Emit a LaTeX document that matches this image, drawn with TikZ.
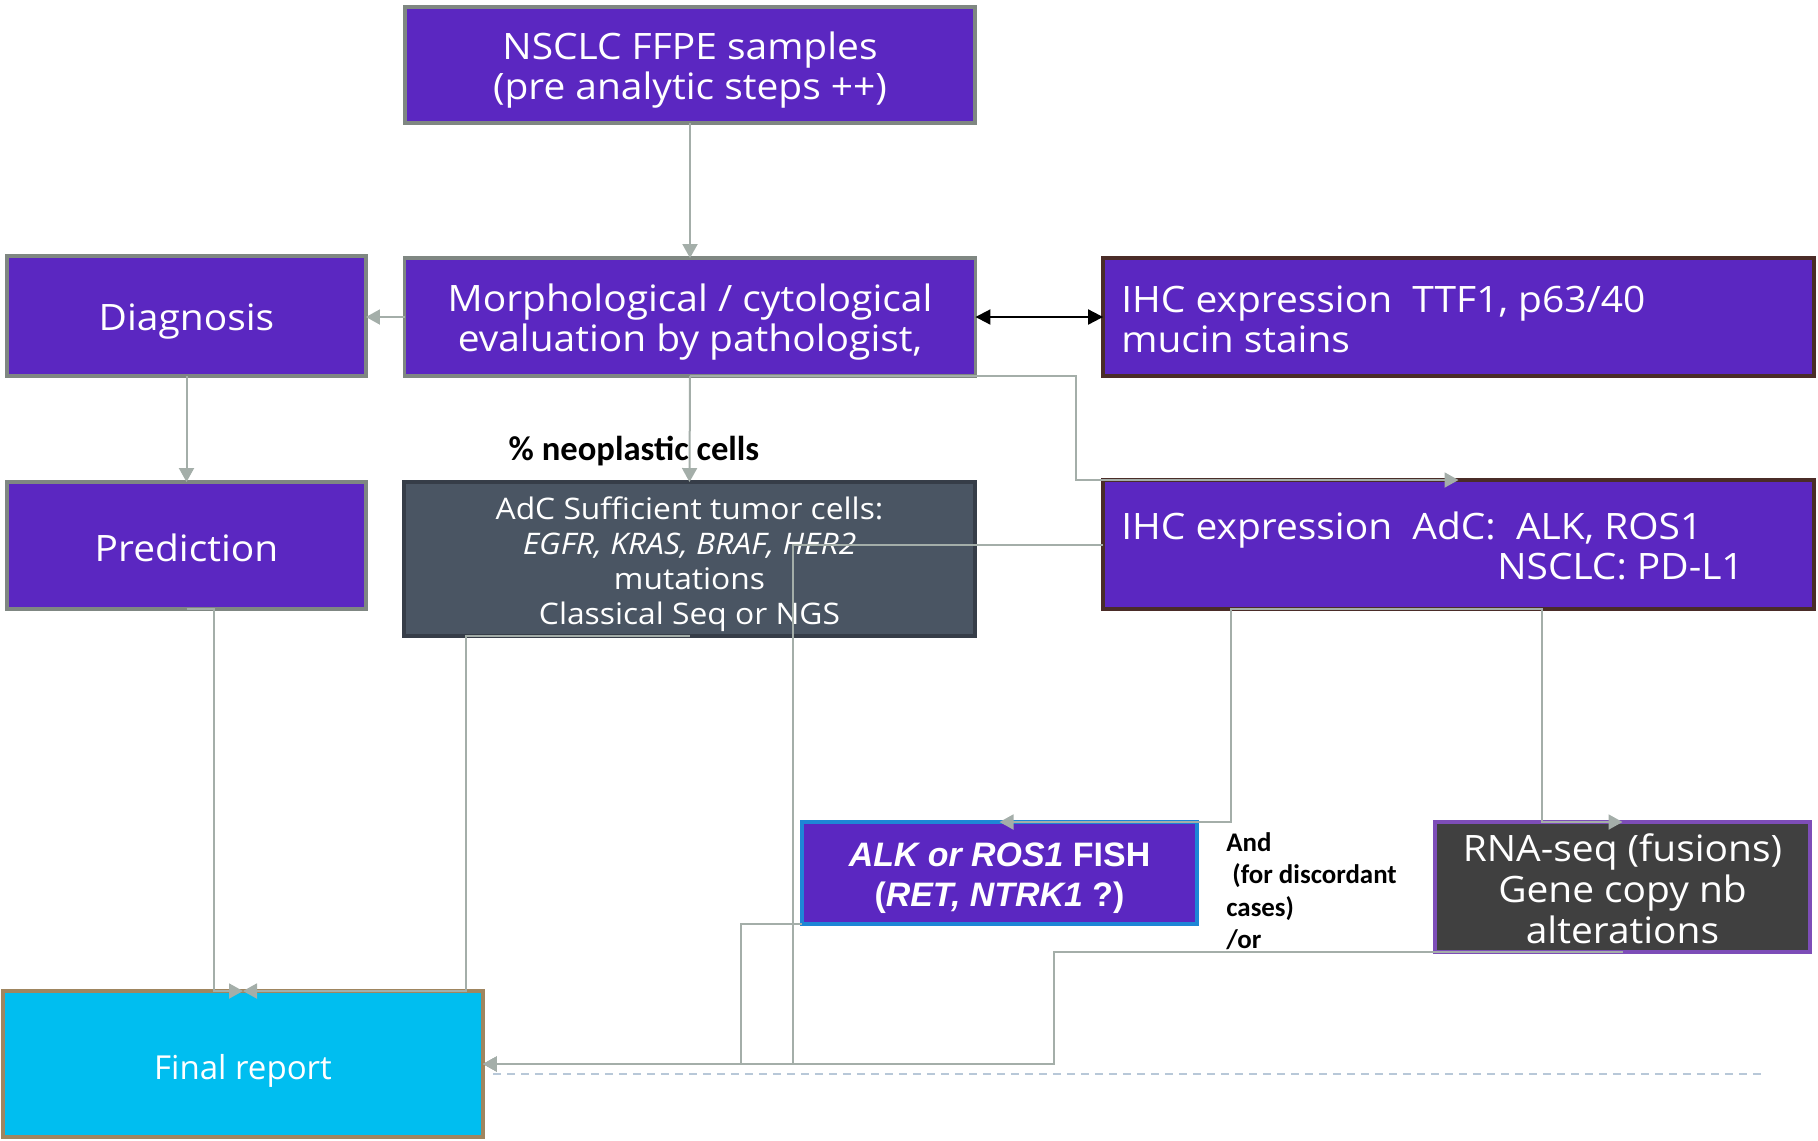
\documentclass[tikz,border=0pt]{standalone}
\usepackage{fontspec}
\setmainfont{Open Sans}[FakeStretch=1.07]
\newfontfamily\reportfont{Open Sans}
\newfontfamily\calibfont{Carlito}
\newfontfamily\arialfont{Liberation Sans}
\usetikzlibrary{arrows.meta}

\definecolor{boxpurple}{HTML}{5B27C1}
\definecolor{edgegray}{HTML}{7F8782}
\definecolor{edgebrown}{HTML}{4A2C28}
\definecolor{slatefill}{HTML}{4A5563}
\definecolor{slateedge}{HTML}{363D48}
\definecolor{fishedge}{HTML}{1E86D6}
\definecolor{darkfill}{HTML}{404040}
\definecolor{rnaedge}{HTML}{7D4DB8}
\definecolor{reportfill}{HTML}{00BEF0}
\definecolor{reportedge}{HTML}{A08660}
\definecolor{linkgray}{HTML}{A4AEA9}
\definecolor{dashblue}{HTML}{B8C8D8}

\tikzset{
  box/.style={draw, line width=0.07cm, inner sep=0pt, outer sep=0pt},
  purplebox/.style={box, fill=boxpurple, draw=edgegray},
  ihcbox/.style={box, fill=boxpurple, draw=edgebrown},
  boxtext/.style={text=white, align=center, inner sep=0pt,
    font=\fontsize{20.7pt}{22.8pt}\selectfont},
  conn/.style={draw=linkgray, line width=0.04cm,
    -{Triangle[length=0.28cm,width=0.30cm]}},
  biarrow/.style={draw=black, line width=0.04cm,
    {Triangle[length=0.30cm,width=0.30cm]}-{Triangle[length=0.30cm,width=0.30cm]}},
  note/.style={text=black, align=left, inner sep=0pt},
}

\begin{document}
\begin{tikzpicture}[x=0.02cm, y=-0.02cm]
\useasboundingbox (0,0) rectangle (1818,1140);

% boxes
\node[purplebox, minimum width=11.40cm, minimum height=2.32cm] (nsclc) at (690,65) {};
\node[purplebox, minimum width=11.42cm, minimum height=2.36cm] (morph) at (690,317) {};
\node[purplebox, minimum width=7.18cm, minimum height=2.40cm] (diag) at (186.5,316) {};
\node[ihcbox, minimum width=14.22cm, minimum height=2.36cm] (ihc1) at (1458.5,317) {};
\node[purplebox, minimum width=7.18cm, minimum height=2.54cm] (pred) at (186.5,545.5) {};
\node[box, fill=slatefill, draw=slateedge, minimum width=11.42cm, minimum height=3.08cm]
  (adc) at (689.5,559) {};
\node[ihcbox, minimum width=14.22cm, minimum height=2.58cm] (ihc2) at (1458.5,544.5) {};
\node[box, fill=boxpurple, draw=fishedge, minimum width=7.90cm, minimum height=2.04cm]
  (fish) at (999.5,873) {};
\node[box, fill=darkfill, draw=rnaedge, minimum width=7.50cm, minimum height=2.60cm]
  (rna) at (1622.5,887) {};
\node[box, fill=reportfill, draw=reportedge, minimum width=9.60cm, minimum height=2.92cm]
  (final) at (243,1064) {};

% box texts
\node[boxtext, yshift=-0.11cm] (nsclctxt) at (nsclc.center)
  {NSCLC FFPE samples\\(pre analytic steps ++)};
\node[boxtext, yshift=-0.11cm] (morphtxt) at (morph.center)
  {Morphological / cytological\\evaluation by pathologist,};
\node[boxtext, yshift=-0.11cm] (diagtxt) at (diag.center) {Diagnosis};
\node[boxtext, yshift=-0.05cm] (predtxt) at (pred.center) {Prediction};
\node[boxtext, align=left, anchor=west] (ihc1txt) at (1121,319)
  {IHC expression\ \ TTF1, p63/40\\mucin stains};
\node[boxtext, align=left, anchor=west] (ihc2txt) at (1121,546)
  {IHC expression\ \ AdC:\ \ ALK, ROS1\\\hspace*{7.52cm}NSCLC: PD-L1};
\node[boxtext, yshift=-0.1cm, font=\fontsize{16.9pt}{19.9pt}\selectfont] (adctxt) at (adc.center)
  {AdC Sufficient tumor cells:\\\textit{EGFR, KRAS, BRAF, HER2}\\mutations\\Classical Seq or NGS};
\node[boxtext, yshift=-0.1cm, font=\arialfont\bfseries\fontsize{19.3pt}{23pt}\selectfont]
  (fishtxt) at (fish.center)
  {\textit{ALK or ROS1} FISH\\(\textit{RET, NTRK1} ?)};
\node[boxtext, yshift=-0.03cm, font=\fontsize{20.7pt}{23.3pt}\selectfont] (rnatxt) at (rna.center)
  {RNA-seq (fusions)\\Gene copy nb\\alterations};
\node[boxtext, yshift=-0.14cm, font=\reportfont\fontsize{18.8pt}{22pt}\selectfont]
  (finaltxt) at (final.center) {Final report};

% free labels
\node[note, font=\calibfont\bfseries\fontsize{19.7pt}{22pt}\selectfont] (neo) at (634,451)
  {\% neoplastic cells};
\node[note, anchor=west, font=\calibfont\bfseries\fontsize{15.3pt}{18.4pt}\selectfont]
  (discord) at (1226,891) {And\\\ (for discordant\\cases)\\/or};

% elbow points of the connectors
\coordinate (j1) at (1076,0);
\coordinate (j2) at (1231,0);
\coordinate (j3) at (1542,0);
\coordinate (j4) at (214,0);
\coordinate (j5) at (466,0);
\coordinate (j6) at (793,0);
\coordinate (j7) at (741,0);
\coordinate (j8) at (1054,0);
\coordinate (dashA) at (493,1074);
\coordinate (dashB) at (1762,1074);

% connectors
\draw[conn] (nsclc.south) -- (morph.north);
\draw[conn] (morph.west) -- (morph.west -| diag.east);
\draw[biarrow] (morph.east) -- (ihc1.west);
\draw[conn] (diag.south) -- (pred.north);
\draw[conn] (morph.south) -- (adc.north);
\draw[conn] (morph.south) -- (morph.south -| j1) |- (ihc2.north);
\draw[conn] (ihc2.south) -- (ihc2.south -| j2) |- (fish.north);
\draw[conn] (ihc2.south) -- (ihc2.south -| j3) |- (rna.north);
\draw[conn] (pred.south) -- (pred.south -| j4) |- (final.north);
\draw[conn] (adc.south) -- (adc.south -| j5) |- (final.north);
\draw[conn] (ihc2.west) -- (ihc2.west -| j6) |- (final.east);
\draw[conn] (fish.south west) -- (fish.south west -| j7) |- (final.east);
\draw[conn] (rna.south) -- (rna.south -| j8) |- (final.east);

% dashed rule beside the report
\draw[dashblue, line width=0.03cm, dash pattern=on 0.16cm off 0.12cm] (dashA) -- (dashB);
\end{tikzpicture}
\end{document}
